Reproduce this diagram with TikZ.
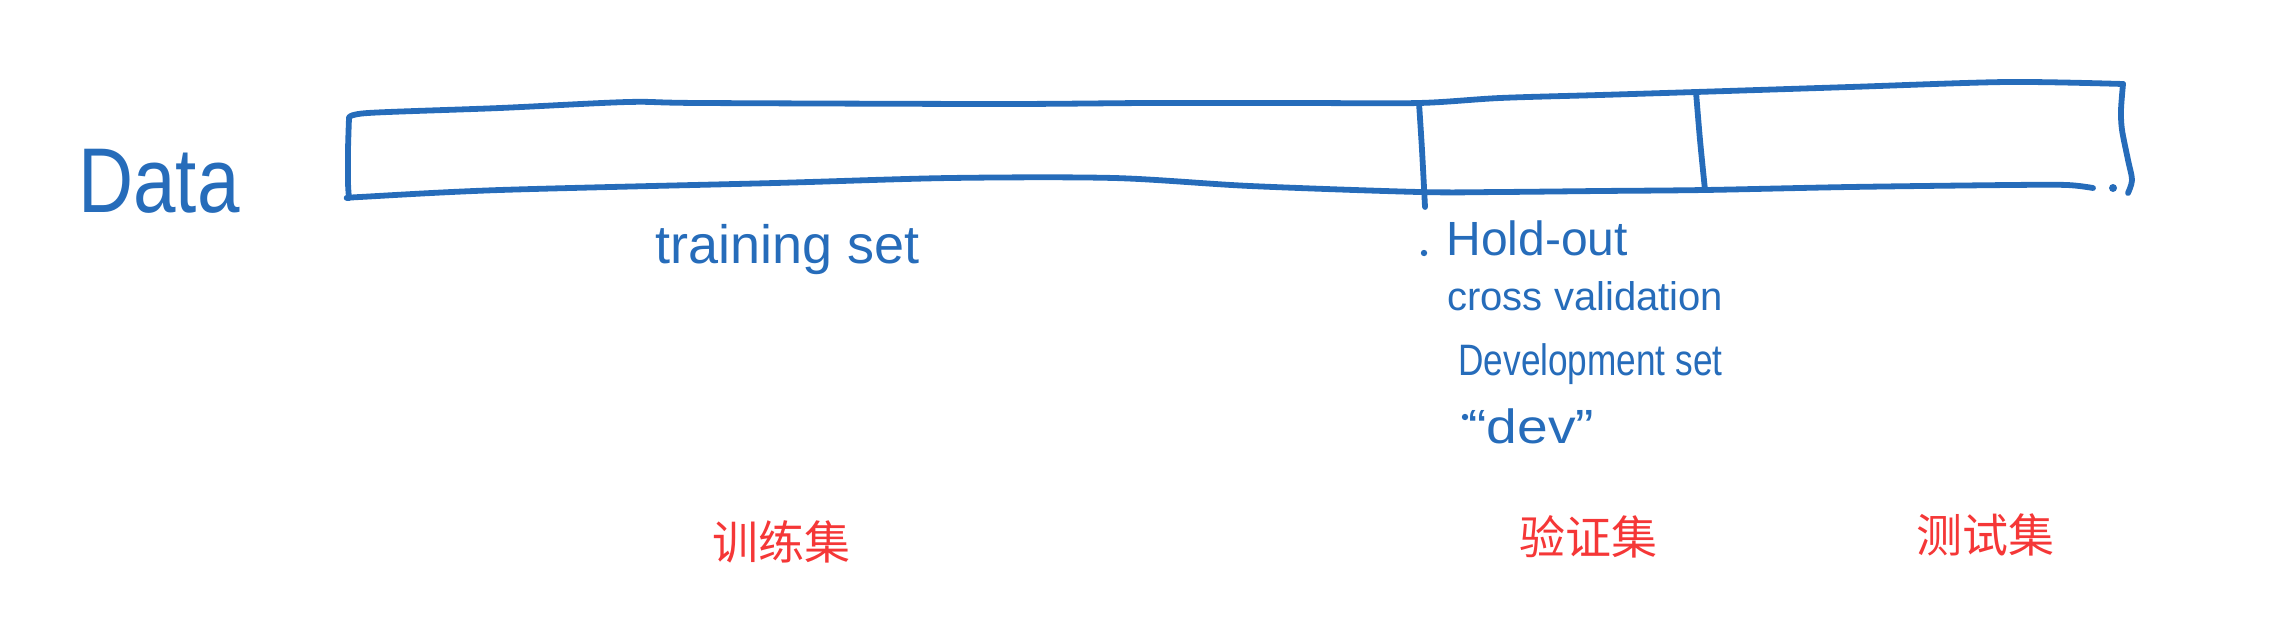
\documentclass[tikz,border=0pt]{standalone}
\usepackage{fontspec}
\usepackage{graphicx}
\newfontfamily\handfont{Liberation Sans}
\newfontfamily\cjkfont{Noto Sans CJK SC}
\definecolor{penblue}{RGB}{38,108,186}
\definecolor{labelred}{RGB}{245,55,55}
\tikzset{
  x=0.5pt, y=-0.5pt,
  pen/.style={draw=penblue, line width=2.9pt, line cap=round, line join=round},
  hand/.style={text=penblue, inner sep=0pt, anchor=base west, font=\handfont},
  cjklabel/.style={text=labelred, inner sep=0pt, anchor=base, font=\cjkfont\fontsize{23pt}{26pt}\selectfont},
  penDot/.style={fill=penblue, draw=none}
}
\begin{document}
\begin{tikzpicture}
\useasboundingbox (0,0) rectangle (2280,631);
% rectangle outline
\draw[pen] plot[smooth, tension=0.5] coordinates {(349,118) (368,113) (500,108) (628,102) (700,103) (1000,104) (1150,103) (1300,103) (1419,103) (1500,98) (1600,95) (1696,92) (1850,87) (2007,82) (2123,84)};
\draw[pen] plot[smooth, tension=0.5] coordinates {(2123,84) (2121,110) (2122,130) (2128,160) (2132,180) (2128,193)};
\draw[pen] plot[smooth, tension=0.5] coordinates {(349,198) (360,197) (500,190) (775,183) (950,178) (1114,178) (1250,186) (1419,192) (1500,192) (1600,191) (1705,190) (1850,187) (2010,185) (2067,185) (2093,188)};
\draw[pen] plot[smooth, tension=0.5] coordinates {(349,118) (348,150) (348,183) (349,198)};
% dividers
\draw[pen] plot[smooth, tension=0.5] coordinates {(1419,103) (1422,150) (1425,207)};
\draw[pen] plot[smooth, tension=0.5] coordinates {(1696,92) (1700,140) (1705,190)};
% dots
\fill[penDot] (2113,188) circle (2pt);
\fill[penDot] (1424,253) circle (1.6pt);
\fill[penDot] (1465,417) circle (1.6pt);
% handwritten labels
\node[hand] (data) at (78,213) {\fontsize{46pt}{50pt}\selectfont\scalebox{0.83}[1]{Data}};
\node[hand] (train) at (655,263) {\fontsize{27pt}{30pt}\selectfont training set};
\node[hand] (hold) at (1446,255) {\fontsize{24pt}{28pt}\selectfont Hold-out};
\node[hand] (cross) at (1447,310) {\fontsize{20pt}{24pt}\selectfont cross validation};
\node[hand] (devel) at (1458,375) {\fontsize{22pt}{26pt}\selectfont\scalebox{0.8}[1]{Development set}};
\node[hand] (dev) at (1468,443) {\fontsize{24pt}{28pt}\selectfont\scalebox{1.15}[1]{“dev”}};
% Chinese labels
\node[cjklabel] (trainzh) at (781,559) {训练集};
\node[cjklabel] (valzh) at (1588,554) {验证集};
\node[cjklabel] (testzh) at (1985,552) {测试集};
\end{tikzpicture}
\end{document}
